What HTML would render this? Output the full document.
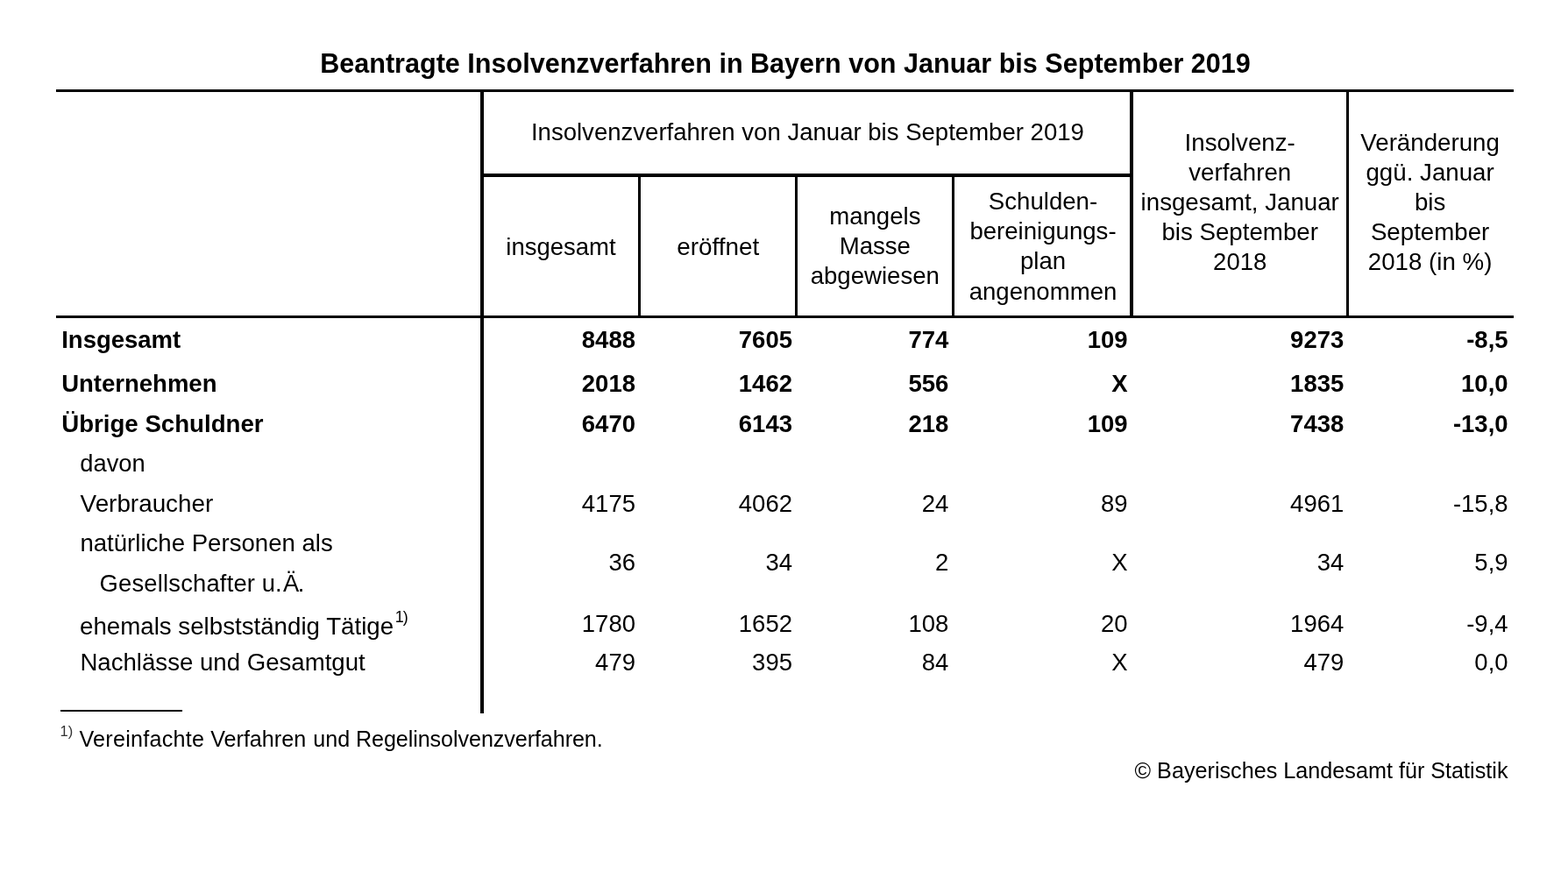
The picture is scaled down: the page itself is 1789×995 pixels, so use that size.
<!DOCTYPE html>
<html lang="de">
<head>
<meta charset="utf-8">
<title>Beantragte Insolvenzverfahren in Bayern von Januar bis September 2019</title>
<style>
html,body{margin:0;padding:0;background:#fff;}
body{width:1789px;height:995px;overflow:hidden;}
svg{display:block;}
text{font-family:"Liberation Sans",Arial,Helvetica,sans-serif;fill:#000;}
</style>
</head>
<body>
<svg width="1789" height="995" viewBox="0 0 1789 995">
<rect x="0" y="0" width="1789" height="995" fill="#fff"/>
<g fill="#000" shape-rendering="crispEdges">
<rect x="64" y="102" width="1663" height="3"/>
<rect x="550" y="198" width="741" height="4"/>
<rect x="64" y="360" width="1663" height="3"/>
<rect x="548" y="102" width="4" height="712"/>
<rect x="728" y="200" width="3" height="162"/>
<rect x="907" y="200" width="3" height="162"/>
<rect x="1086" y="200" width="3" height="162"/>
<rect x="1289" y="102" width="4" height="260"/>
<rect x="1536" y="102" width="3" height="260"/>
<rect x="69" y="810" width="139" height="2"/>
</g>
<text x="896.0" y="83" font-size="30.57" text-anchor="middle" font-weight="bold">Beantragte Insolvenzverfahren in Bayern von Januar bis September 2019</text>
<text x="921.4" y="160" font-size="27.55" text-anchor="middle">Insolvenzverfahren von Januar bis September 2019</text>
<text x="640" y="291.2" font-size="27.5" text-anchor="middle">insgesamt</text>
<text x="819.3" y="291.2" font-size="27.9" text-anchor="middle">eröffnet</text>
<text x="998.3" y="256.2" font-size="27.6" text-anchor="middle">mangels</text>
<text x="998.3" y="290.3" font-size="27.6" text-anchor="middle">Masse</text>
<text x="998.3" y="324.4" font-size="27.6" text-anchor="middle">abgewiesen</text>
<text x="1190" y="238.9" font-size="27.6" text-anchor="middle">Schulden-</text>
<text x="1190" y="272.8" font-size="27.6" text-anchor="middle">bereinigungs-</text>
<text x="1190" y="307.2" font-size="27.6" text-anchor="middle">plan</text>
<text x="1190" y="341.7" font-size="27.6" text-anchor="middle">angenommen</text>
<text x="1414.7" y="172" font-size="27.7" text-anchor="middle">Insolvenz-</text>
<text x="1414.7" y="206" font-size="27.7" text-anchor="middle">verfahren</text>
<text x="1414.7" y="240" font-size="27.7" text-anchor="middle">insgesamt, Januar</text>
<text x="1414.7" y="274" font-size="27.7" text-anchor="middle">bis September</text>
<text x="1414.7" y="308.3" font-size="27.5" text-anchor="middle">2018</text>
<text x="1631.6" y="172" font-size="27.7" text-anchor="middle">Veränderung</text>
<text x="1631.6" y="206" font-size="27.7" text-anchor="middle">ggü. Januar</text>
<text x="1631.6" y="240" font-size="27.7" text-anchor="middle">bis</text>
<text x="1631.6" y="274" font-size="27.7" text-anchor="middle">September</text>
<text x="1631.6" y="308" font-size="27.7" text-anchor="middle">2018 (in %)</text>
<text x="70.2" y="397.4" font-size="27.5" font-weight="bold">Insgesamt</text>
<text x="725" y="397.4" font-size="27.5" text-anchor="end" font-weight="bold">8488</text>
<text x="904" y="397.4" font-size="27.5" text-anchor="end" font-weight="bold">7605</text>
<text x="1082.4" y="397.4" font-size="27.5" text-anchor="end" font-weight="bold">774</text>
<text x="1286.6" y="397.4" font-size="27.5" text-anchor="end" font-weight="bold">109</text>
<text x="1533.3" y="397.4" font-size="27.5" text-anchor="end" font-weight="bold">9273</text>
<text x="1720.6" y="397.4" font-size="27.5" text-anchor="end" font-weight="bold">-8,5</text>
<text x="70.2" y="446.6" font-size="27.5" font-weight="bold">Unternehmen</text>
<text x="725" y="446.6" font-size="27.5" text-anchor="end" font-weight="bold">2018</text>
<text x="904" y="446.6" font-size="27.5" text-anchor="end" font-weight="bold">1462</text>
<text x="1082.4" y="446.6" font-size="27.5" text-anchor="end" font-weight="bold">556</text>
<text x="1286.6" y="446.6" font-size="27.5" text-anchor="end" font-weight="bold">X</text>
<text x="1533.3" y="446.6" font-size="27.5" text-anchor="end" font-weight="bold">1835</text>
<text x="1720.6" y="446.6" font-size="27.5" text-anchor="end" font-weight="bold">10,0</text>
<text x="70.2" y="493" font-size="27.65" font-weight="bold">Übrige Schuldner</text>
<text x="725" y="493" font-size="27.5" text-anchor="end" font-weight="bold">6470</text>
<text x="904" y="493" font-size="27.5" text-anchor="end" font-weight="bold">6143</text>
<text x="1082.4" y="493" font-size="27.5" text-anchor="end" font-weight="bold">218</text>
<text x="1286.6" y="493" font-size="27.5" text-anchor="end" font-weight="bold">109</text>
<text x="1533.3" y="493" font-size="27.5" text-anchor="end" font-weight="bold">7438</text>
<text x="1720.6" y="493" font-size="27.5" text-anchor="end" font-weight="bold">-13,0</text>
<text x="91.6" y="583.5" font-size="27.85">Verbraucher</text>
<text x="725" y="583.5" font-size="27.5" text-anchor="end">4175</text>
<text x="904" y="583.5" font-size="27.5" text-anchor="end">4062</text>
<text x="1082.4" y="583.5" font-size="27.5" text-anchor="end">24</text>
<text x="1286.6" y="583.5" font-size="27.5" text-anchor="end">89</text>
<text x="1533.3" y="583.5" font-size="27.5" text-anchor="end">4961</text>
<text x="1720.6" y="583.5" font-size="27.5" text-anchor="end">-15,8</text>
<text x="725" y="650.5" font-size="27.5" text-anchor="end">36</text>
<text x="904" y="650.5" font-size="27.5" text-anchor="end">34</text>
<text x="1082.4" y="650.5" font-size="27.5" text-anchor="end">2</text>
<text x="1286.6" y="650.5" font-size="27.5" text-anchor="end">X</text>
<text x="1533.3" y="650.5" font-size="27.5" text-anchor="end">34</text>
<text x="1720.6" y="650.5" font-size="27.5" text-anchor="end">5,9</text>
<text x="725" y="720.5" font-size="27.5" text-anchor="end">1780</text>
<text x="904" y="720.5" font-size="27.5" text-anchor="end">1652</text>
<text x="1082.4" y="720.5" font-size="27.5" text-anchor="end">108</text>
<text x="1286.6" y="720.5" font-size="27.5" text-anchor="end">20</text>
<text x="1533.3" y="720.5" font-size="27.5" text-anchor="end">1964</text>
<text x="1720.6" y="720.5" font-size="27.5" text-anchor="end">-9,4</text>
<text x="91.4" y="765.3" font-size="27.62">Nachlässe und Gesamtgut</text>
<text x="725" y="765.3" font-size="27.5" text-anchor="end">479</text>
<text x="904" y="765.3" font-size="27.5" text-anchor="end">395</text>
<text x="1082.4" y="765.3" font-size="27.5" text-anchor="end">84</text>
<text x="1286.6" y="765.3" font-size="27.5" text-anchor="end">X</text>
<text x="1533.3" y="765.3" font-size="27.5" text-anchor="end">479</text>
<text x="1720.6" y="765.3" font-size="27.5" text-anchor="end">0,0</text>
<text x="91.3" y="537.7" font-size="27.3">davon</text>
<text x="91.4" y="629" font-size="27.6">natürliche Personen als</text>
<text x="113.6" y="675" font-size="27.35"><tspan letter-spacing="0.2">Gesellschafter</tspan> u.<tspan dx="1.3">Ä</tspan><tspan dx="-1.3">.</tspan></text>
<text x="91.0" y="723.6" font-size="27.7">ehemals selbstständig Tätige<tspan dx="1.6" dy="-13.4" font-size="18">1<tspan dx="-1">)</tspan></tspan></text>
<text x="68.6" y="840" font-size="16.5" style="fill:#333">1)</text>
<text x="90.5" y="851.7" font-size="25.15"><tspan letter-spacing="0.24">Vereinfachte</tspan> Verfahren<tspan dx="1.1"> und</tspan><tspan dx="-0.2" letter-spacing="-0.08"> Regelinsolvenzverfahren.</tspan></text>
<text x="1720.5" y="888" font-size="25.2" text-anchor="end">© Bayerisches Landesamt für Statistik</text>
</svg>
</body>
</html>
